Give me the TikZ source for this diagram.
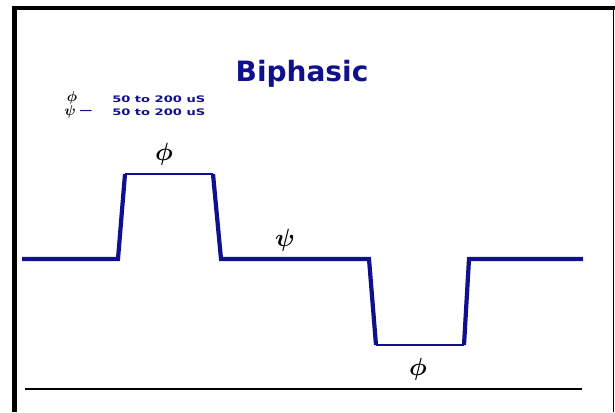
\documentclass[tikz,border=0pt]{standalone}
\usepackage{fontspec}
\usepackage{bm}
\newfontfamily\titlefont{DejaVu Sans}
\definecolor{wave}{RGB}{16,16,140}
\tikzset{
  pulse/.style={draw=wave, line width=4.2pt, line join=miter},
  flat/.style={draw=wave, line width=2.2pt},
  sym/.style={inner sep=0pt, font=\fontsize{28}{28}\selectfont},
  legsym/.style={inner sep=0pt, font=\fontsize{14}{14}\selectfont},
  legend/.style={inner sep=0pt, anchor=west, text=wave, xscale=1.45,
    font=\titlefont\bfseries\fontsize{9}{9}\selectfont},
}
\begin{document}
\begin{tikzpicture}[x=1pt, y=-1pt]
  \useasboundingbox (0,0) rectangle (615,412);
  \fill[white] (0,0) rectangle (615,412);

  % frame
  \fill[black] (12,6) rectangle (17,412);
  \fill[black] (12,6) rectangle (615,10);
  \draw[black, line width=1.2pt] (613.5,6) -- (613.5,412);

  % axis line under the trace
  \coordinate (axL) at (25,389);
  \coordinate (axR) at (582,389);
  \draw[black, line width=1.4pt] (axL) -- (axR);

  % biphasic trace
  \coordinate (s)   at (22,259);
  \coordinate (p1a) at (118,259);
  \coordinate (p1b) at (125,174);
  \coordinate (p1c) at (213,174);
  \coordinate (p1d) at (221,259);
  \coordinate (p2a) at (369,259);
  \coordinate (p2b) at (376,345);
  \coordinate (p2c) at (464,345);
  \coordinate (p2d) at (469,259);
  \coordinate (e)   at (583,259);
  \draw[pulse] (s) -- (p1a) -- (p1b);
  \draw[flat] (p1b) -- (p1c);
  \draw[pulse] (p1c) -- (p1d) -- (p2a) -- (p2b);
  \draw[flat] (p2b) -- (p2c);
  \draw[pulse] (p2c) -- (p2d) -- (e);

  % labels
  \node[text=wave, inner sep=0pt, font=\titlefont\bfseries\fontsize{28}{28}\selectfont] (title) at (302,74) {Biphasic};
  \node[sym] (phiA) at (164,154) {$\bm{\phi}$};
  \node[sym] (psiA) at (285,240) {$\bm{\psi}$};
  \node[sym] (phiB) at (418,369) {$\bm{\phi}$};

  % legend
  \node[legsym] (lphi) at (72,98) {$\bm{\phi}$};
  \node[legsym] (lpsi) at (70,112) {$\bm{\psi}$};
  \node[legend] (tphi) at (112,99) {50 to 200 uS};
  \node[legend] (dash) at (79,112) {\textemdash};
  \node[legend] (tpsi) at (112,112) {50 to 200 uS};
\end{tikzpicture}
\end{document}
